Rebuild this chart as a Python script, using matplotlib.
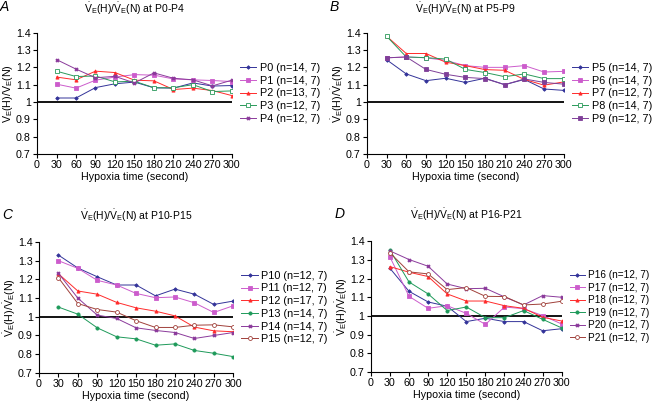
"""Hypoxic ventilatory ratio VE(H)/VE(N) over 5 min of hypoxia, P0-P21.

Four panels (A-D), one curve per postnatal day, legend to the right of
each panel. Writes out.png at 654x404.
"""

import matplotlib.pyplot as plt
from matplotlib.ticker import FuncFormatter

plt.rcParams["font.family"] = ["Liberation Sans", "DejaVu Sans"]
plt.rcParams["mathtext.fontset"] = "custom"
plt.rcParams["mathtext.rm"] = "Liberation Sans"
plt.rcParams["mathtext.it"] = "Liberation Sans:italic"
plt.rcParams["mathtext.bf"] = "Liberation Sans:bold"

# Hypoxia time (s)
TIME = [30, 60, 90, 120, 150, 180, 210, 240, 270, 300]

# Panel A
P0 = [1.023, 1.023, 1.083, 1.105, 1.115, 1.082, 1.080, 1.110, 1.092, 1.095]
P1 = [1.103, 1.080, 1.126, 1.144, 1.158, 1.155, 1.133, 1.128, 1.124, 1.118]
P2 = [1.144, 1.128, 1.178, 1.170, 1.126, 1.122, 1.072, 1.080, 1.066, 1.037]
P3 = [1.178, 1.147, 1.150, 1.116, 1.120, 1.082, 1.082, 1.100, 1.060, 1.064]
P4 = [1.245, 1.190, 1.140, 1.148, 1.110, 1.168, 1.137, 1.128, 1.093, 1.126]
LABELS_A = ["P0 (n=14, 7)", "P1 (n=14, 7)", "P2 (n=13, 7)",
            "P3 (n=12, 7)", "P4 (n=12, 7)"]

# Panel B
P5 = [1.244, 1.162, 1.123, 1.137, 1.113, 1.137, 1.100, 1.130, 1.075, 1.067]
P6 = [1.255, 1.260, 1.255, 1.240, 1.210, 1.200, 1.200, 1.210, 1.173, 1.177]
P7 = [1.380, 1.280, 1.280, 1.230, 1.210, 1.187, 1.183, 1.130, 1.097, 1.116]
P8 = [1.380, 1.260, 1.256, 1.248, 1.188, 1.170, 1.146, 1.162, 1.135, 1.135]
P9 = [1.255, 1.260, 1.188, 1.160, 1.142, 1.135, 1.100, 1.133, 1.113, 1.103]
LABELS_B = ["P5 (n=14, 7)", "P6 (n=14, 7)", "P7 (n=12, 7)",
            "P8 (n=14, 7)", "P9 (n=12, 7)"]

# Panel C
P10 = [1.330, 1.261, 1.214, 1.170, 1.170, 1.112, 1.148, 1.121, 1.066, 1.084]
P11 = [1.300, 1.259, 1.195, 1.170, 1.125, 1.102, 1.106, 1.075, 1.023, 1.059]
P12 = [1.230, 1.138, 1.121, 1.077, 1.048, 1.030, 1.005, 0.945, 0.925, 0.920]
P13 = [1.052, 1.014, 0.941, 0.893, 0.882, 0.848, 0.855, 0.820, 0.805, 0.787]
P14 = [1.233, 1.100, 1.009, 0.991, 0.941, 0.927, 0.916, 0.884, 0.900, 0.916]
P15 = [1.209, 1.071, 1.039, 1.025, 0.979, 0.943, 0.943, 0.955, 0.957, 0.946]
LABELS_C = ["P10 (n=12, 7)", "P11 (n=12, 7)", "P12 (n=17, 7)",
            "P13 (n=14, 7)", "P14 (n=14, 7)", "P15 (n=12, 7)"]

# Panel D
P16 = [1.255, 1.132, 1.075, 1.052, 0.970, 0.988, 0.970, 0.970, 0.921, 0.932]
P17 = [1.316, 1.105, 1.041, 1.055, 1.014, 0.955, 1.048, 1.039, 1.002, 0.957]
P18 = [1.264, 1.234, 1.211, 1.118, 1.080, 1.080, 1.055, 1.041, 0.993, 0.973]
P19 = [1.352, 1.182, 1.118, 1.029, 1.048, 0.991, 0.991, 1.029, 0.982, 0.936]
P20 = [1.348, 1.302, 1.266, 1.171, 1.146, 1.148, 1.102, 1.059, 1.109, 1.100]
P21 = [1.338, 1.236, 1.225, 1.141, 1.152, 1.105, 1.104, 1.059, 1.064, 1.079]
LABELS_D = ["P16 (n=12, 7)", "P17 (n=12, 7)", "P18 (n=12, 7)",
            "P19 (n=12, 7)", "P20 (n=12, 7)", "P21 (n=12, 7)"]

# Series styles: (color, marker, open marker?)
NAVY = ("#333399", "D", False)
PINK = ("#CC5CCC", "s", False)
RED = ("#FF2B2B", "^", False)
GREEN_OPEN = ("#2A9A5A", "s", True)
GREEN = ("#1E9A5A", "o", False)
PURPLE_X = ("#8B3A9B", "X", False)
PURPLE_SQ = ("#7F3F98", "s", False)
BROWN_OPEN = ("#A0403A", "o", True)

VE = r"$\dot{\mathrm{V}}_{\mathrm{E}}$"
RATIO = f"{VE}(H)/{VE}(N)"
FS = 7.7


def draw_panel(ax, letter, span, series, labels, styles, legend_fs=7.8):
    for y, lab, (color, marker, hollow) in zip(series, labels, styles):
        ms = 2.8 if hollow else (1.8 if marker == "D" else 2.3)
        ax.plot(TIME, y, color=color, lw=0.7, marker=marker, ms=ms,
                mfc="white" if hollow else color, mec=color, mew=0.6,
                label=lab)
    ax.axhline(1.0, color="black", lw=1.3, zorder=1)

    ax.set_xlim(0, 300)
    ax.set_ylim(0.7, 1.4)
    ax.set_xticks(range(0, 301, 30))
    ax.set_yticks([0.7, 0.8, 0.9, 1.0, 1.1, 1.2, 1.3, 1.4])
    ax.yaxis.set_major_formatter(FuncFormatter(lambda v, _: f"{v:g}"))
    ax.tick_params(labelsize=FS, length=3, width=0.8, pad=1.5)
    for side in ("top", "right"):
        ax.spines[side].set_visible(False)
    for side in ("left", "bottom"):
        ax.spines[side].set_linewidth(0.8)

    ax.set_xlabel("Hypoxia time (second)", fontsize=FS, labelpad=1)
    ax.set_ylabel(RATIO, fontsize=FS, labelpad=0)

    ax.text(0.5, 1.2, f"{RATIO} at {span}", transform=ax.transAxes,
            ha="center", va="center", fontsize=7.5)
    ax.text(-0.19, 1.21, letter, transform=ax.transAxes, ha="left",
            va="center", fontsize=10, style="italic")

    ax.legend(loc="center left", bbox_to_anchor=(1.02, 0.5),
              frameon=False, fontsize=legend_fs, handlelength=1.5,
              handletextpad=0.3, labelspacing=0.25, borderaxespad=0)


def main():
    fig = plt.figure(figsize=(6.54, 4.04), dpi=100)
    ax_a = fig.add_axes([0.0566, 0.619, 0.298, 0.300])
    ax_b = fig.add_axes([0.561, 0.619, 0.301, 0.300])
    ax_c = fig.add_axes([0.0596, 0.077, 0.297, 0.324])
    ax_d = fig.add_axes([0.567, 0.079, 0.292, 0.324])

    draw_panel(ax_a, "A", "P0-P4", [P0, P1, P2, P3, P4], LABELS_A,
               [NAVY, PINK, RED, GREEN_OPEN, PURPLE_X])
    draw_panel(ax_b, "B", "P5-P9", [P5, P6, P7, P8, P9], LABELS_B,
               [NAVY, PINK, RED, GREEN_OPEN, PURPLE_SQ])
    draw_panel(ax_c, "C", "P10-P15", [P10, P11, P12, P13, P14, P15], LABELS_C,
               [NAVY, PINK, RED, GREEN, PURPLE_X, BROWN_OPEN])
    draw_panel(ax_d, "D", "P16-P21", [P16, P17, P18, P19, P20, P21], LABELS_D,
               [NAVY, PINK, RED, GREEN, PURPLE_X, BROWN_OPEN], legend_fs=7.2)

    fig.savefig("out.png", dpi=100)


if __name__ == "__main__":
    main()
